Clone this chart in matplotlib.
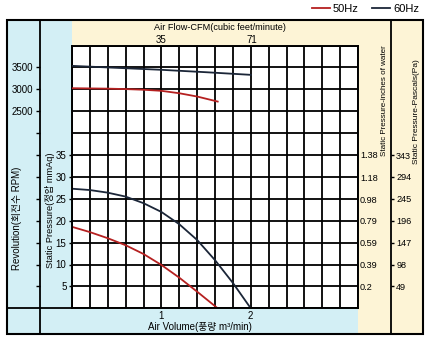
import matplotlib
matplotlib.use("Agg")
import matplotlib.pyplot as plt
from matplotlib.patches import Rectangle
from matplotlib.lines import Line2D
from matplotlib.ticker import FixedLocator, MultipleLocator, NullFormatter

plt.rcParams['font.family'] = ['Liberation Sans', 'Noto Sans CJK KR', 'DejaVu Sans']

# ---------------- data ----------------
# Static pressure (mmAq) vs air volume (m3/min)
flow_50 = [0.0, 0.2, 0.4, 0.6, 0.8, 1.0, 1.2, 1.4, 1.63]
press_50 = [18.6, 17.4, 16.0, 14.4, 12.4, 9.9, 7.0, 3.8, 0.0]
flow_60 = [0.0, 0.2, 0.4, 0.6, 0.8, 1.0, 1.2, 1.4, 1.6, 1.8, 2.0]
press_60 = [27.3, 27.0, 26.4, 25.5, 24.0, 22.0, 19.2, 15.6, 11.0, 5.8, 0.0]
# Revolution (RPM) vs air volume
rpm_flow_50 = [0.0, 0.4, 0.6, 0.8, 1.0, 1.2, 1.4, 1.63]
rpm_50 = [3025, 3015, 3005, 2990, 2965, 2910, 2835, 2720]
rpm_flow_60 = [0.0, 0.5, 1.0, 1.5, 2.0]
rpm_60 = [3535, 3490, 3445, 3390, 3330]

pressure_ticks = [5, 10, 15, 20, 25, 30, 35]
rpm_ticks = [2500, 3000, 3500]
inch_ticks = [0.2, 0.39, 0.59, 0.79, 0.98, 1.18, 1.38]
inch_labels = ['0.2', '0.39', '0.59', '0.79', '0.98', '1.18', '1.38']
pa_ticks = [49, 98, 147, 196, 245, 294, 343]
volume_ticks = [1, 2]
cfm_ticks = [35, 71]
series_names = ['50Hz', '60Hz']

C50 = '#b52020'
C60 = '#1b2638'
BLUE = '#d3eff5'
CREAM = '#fdf4d6'

W, H = 425, 341
fig = plt.figure(figsize=(W / 100, H / 100), dpi=100)


def fx(px):
    return px / W


def fy(py):
    return 1 - py / H


def frect(x0, y0, x1, y1, color):
    fig.patches.append(Rectangle((fx(x0), fy(y1)), fx(x1) - fx(x0), fy(y0) - fy(y1),
                                 transform=fig.transFigure, facecolor=color,
                                 edgecolor='none', zorder=-3))


def fline(xs, ys, lw=1.3):
    fig.lines.append(Line2D([fx(x) for x in xs], [fy(y) for y in ys],
                            transform=fig.transFigure, color='black', lw=lw, zorder=-2))


L, R, T, B = 72, 358, 45.5, 308.3
frect(7, 20, 72, 334, BLUE)
frect(72, 308, 358, 334, BLUE)
frect(72, 20, 423, 46, CREAM)
frect(358, 45, 423, 334, CREAM)
fig.patches.append(Rectangle((fx(7), fy(334)), fx(423) - fx(7), fy(20) - fy(334),
                             transform=fig.transFigure, facecolor='none',
                             edgecolor='black', lw=1.5, zorder=-2))
fline([40, 40], [20, 334])
fline([391, 391], [20, 334])
fline([7, 72], [B, B])

ax = fig.add_axes([fx(L), fy(B), fx(R) - fx(L), fy(T) - fy(B)])
ax.set_facecolor('white')
ax.set_xlim(0, 3.2)
ax.set_ylim(0, 60)
for s in ax.spines.values():
    s.set_linewidth(1.4)
ax.xaxis.set_minor_locator(MultipleLocator(0.2))
ax.yaxis.set_minor_locator(MultipleLocator(5))
ax.set_xticks(volume_ticks)
ax.set_yticks(pressure_ticks)
ax.grid(True, which='both', color='black', lw=1.3)
ax.tick_params(axis='x', which='both', length=0, pad=2, labelsize=7)
ax.tick_params(axis='y', which='major', length=2, width=1, pad=2, labelsize=7)
ax.tick_params(axis='y', which='minor', length=0)
ax.set_axisbelow(True)

ax.plot(flow_50, press_50, color=C50, lw=1.3)
ax.plot(flow_60, press_60, color=C60, lw=1.3)

ax.set_xlabel('Air Volume(풍량 m³/min)', fontsize=7)
ax.xaxis.label.set_va('center')
ax.xaxis.set_label_coords((200 - L) / (R - L), (B - 327.5) / (B - T))

# top CFM axis
sec = ax.secondary_xaxis('top', functions=(lambda v: v * 35.3147, lambda c: c / 35.3147))
sec.set_xticks(cfm_ticks)
sec.tick_params(length=0, pad=0.5, labelsize=7)
sec.spines['top'].set_visible(False)
fig.text(fx(220), fy(28), 'Air Flow-CFM(cubic feet/minute)', ha='center', va='center', fontsize=6.6)

# RPM axis (left column)
ax_r = ax.twinx()
ax_r.set_ylim(-2000, 4000)
ax_r.yaxis.set_ticks_position('left')
ax_r.spines['left'].set_position(('axes', (40 - L) / (R - L)))
for s in ax_r.spines.values():
    s.set_visible(False)
ax_r.set_yticks(rpm_ticks)
ax_r.yaxis.set_minor_locator(FixedLocator(list(range(-1500, 2001, 500))))
ax_r.yaxis.set_minor_formatter(NullFormatter())
ax_r.tick_params(axis='y', which='both', direction='out', length=3, width=1, pad=2, labelsize=7)
ax_r.plot(rpm_flow_50, rpm_50, color=C50, lw=1.3, label=series_names[0])
ax_r.plot(rpm_flow_60, rpm_60, color=C60, lw=1.3, label=series_names[1])

# inches of water
ax_in = ax.twinx()
ax_in.set_ylim(0, 60 / 25.4)
for s in ax_in.spines.values():
    s.set_visible(False)
ax_in.set_yticks(inch_ticks)
ax_in.set_yticklabels(inch_labels)
ax_in.tick_params(axis='y', length=0, pad=1.5, labelsize=6.6)

# pascals
ax_pa = ax.twinx()
ax_pa.set_ylim(0, 60 * 9.80665)
ax_pa.spines['right'].set_position(('axes', (391 - L) / (R - L)))
for s in ax_pa.spines.values():
    s.set_visible(False)
ax_pa.set_yticks(pa_ticks)
ax_pa.tick_params(axis='y', direction='out', length=2.5, width=1, pad=1.2, labelsize=6.6)

# rotated column labels
fig.text(fx(17), fy(218), 'Revolution(회전수 RPM)', rotation=90, ha='center', va='center', fontsize=7)
fig.text(fx(50), fy(210), 'Static Pressure(정압 mmAq)', rotation=90, ha='center', va='center', fontsize=6.7)
fig.text(fx(385), fy(101), 'Static Pressure-inches of water', rotation=90, ha='center', va='center', fontsize=5.8)
fig.text(fx(416), fy(112), 'Static Pressure-Pascals(Pa)', rotation=90, ha='center', va='center', fontsize=6)

# legend
fig.legend(handles=ax_r.get_lines(), labels=series_names, loc='upper right',
           bbox_to_anchor=(fx(427), fy(-4)), ncol=2, frameon=False, fontsize=8,
           handlelength=1.6, handletextpad=0.3, columnspacing=1.2, borderpad=0.2)

fig.savefig('out.png', dpi=100)
